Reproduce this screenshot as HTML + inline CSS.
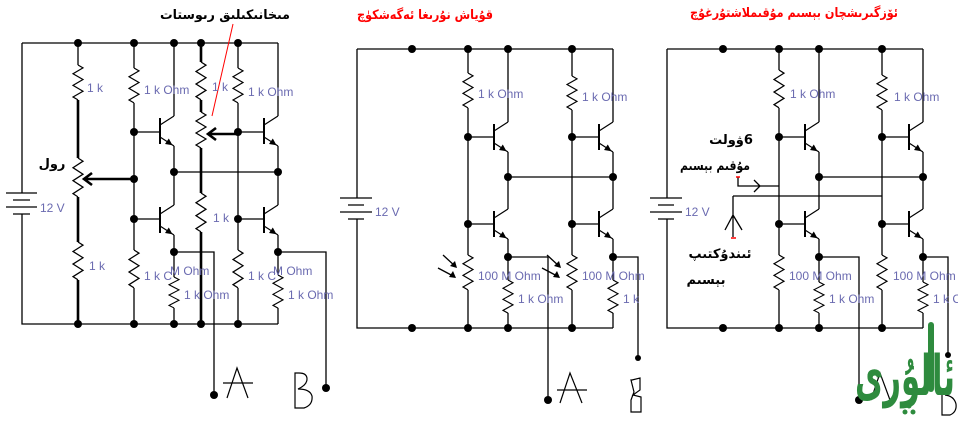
<!DOCTYPE html>
<html>
<head>
<meta charset="utf-8">
<style>
html,body{margin:0;padding:0;background:#fff;}
svg{display:block;}
.ar{font-family:"DejaVu Sans","Liberation Sans",sans-serif;font-weight:bold;}
.lb{font-family:"Liberation Sans",sans-serif;font-size:12px;fill:#6a6ab0;}
</style>
</head>
<body>
<svg width="958" height="423" viewBox="0 0 958 423" xmlns="http://www.w3.org/2000/svg">
<defs>
<path id="r" d="M0 0 L5 3 L-5 9 L5 15 L-5 21 L5 27 L-5 33 L0 36" fill="none" stroke="#000" stroke-width="1.2"/>
<g id="q">
<path d="M0 -13V13" stroke="#000" stroke-width="2" fill="none"/>
<path d="M0 -6L14 -15M0 6L14 15" stroke="#000" stroke-width="1.2" fill="none"/>
<path d="M12.5 14.3 L5 13 L8.8 7.5 Z" fill="#000"/>
</g>
</defs>
<rect width="958" height="423" fill="#fff"/>

<!-- ================= LEFT CIRCUIT ================= -->
<g fill="none" stroke="#000" stroke-width="1.3">
<path d="M22 43H278 M22 43V193 M22 214V324H278"/>
<path d="M6 193H37 M13 200H30 M6 207H37 M13 214H30"/>
<path d="M78 43V65"/>
<path d="M134 43V68 M134 103V250 M134 288V324 M134 132H160 M134 219H160"/>
<path d="M174 43V116 M174 146V205 M174 235V277 M174 308V324 M174 172H278"/>
<path d="M174 252H214V395"/>
<path d="M238 43V68 M238 103V250 M238 288V324 M238 132H264 M238 219H264"/>
<path d="M278 43V116 M278 146V205 M278 235V275 M278 308V324"/>
<path d="M278 252H326V388"/>
</g>
<g fill="none" stroke="#000" stroke-width="2.6">
<path d="M78 100V158 M78 197V242 M78 280V324"/>
<path d="M201 43V62 M201 100V112 M201 148V193 M201 232V324"/>
<path d="M134 179H84 M92 173L84 179L92 185"/>
<path d="M238 134H208 M216 128L208 134L216 140"/>
</g>
<use href="#r" transform="translate(78,65) scale(1,0.97)"/>
<use href="#r" transform="translate(78,158) scale(1,1.08)"/>
<use href="#r" transform="translate(78,242) scale(1,1.05)"/>
<use href="#r" transform="translate(134,68) scale(1,0.97)"/>
<use href="#r" transform="translate(134,250) scale(1,1.05)"/>
<use href="#r" transform="translate(174,277) scale(1,0.86)"/>
<use href="#r" transform="translate(201,62) scale(1,1.05)"/>
<use href="#r" transform="translate(201,112) scale(1,1)"/>
<use href="#r" transform="translate(201,193) scale(1,1.08)"/>
<use href="#r" transform="translate(238,68) scale(1,0.97)"/>
<use href="#r" transform="translate(238,250) scale(1,1.05)"/>
<use href="#r" transform="translate(278,275) scale(1,0.92)"/>
<use href="#q" x="160" y="131"/>
<use href="#q" x="160" y="220"/>
<use href="#q" x="264" y="131"/>
<use href="#q" x="264" y="220"/>
<g fill="#000">
<circle cx="78" cy="43" r="4"/><circle cx="134" cy="43" r="4"/><circle cx="174" cy="43" r="4"/><circle cx="201" cy="43" r="4"/><circle cx="238" cy="43" r="4"/>
<circle cx="134" cy="132" r="4"/><circle cx="238" cy="132" r="4"/><circle cx="134" cy="179" r="4"/>
<circle cx="174" cy="172" r="4"/><circle cx="278" cy="172" r="4"/>
<circle cx="134" cy="219" r="4"/><circle cx="238" cy="219" r="4"/>
<circle cx="174" cy="252" r="4"/><circle cx="278" cy="252" r="4"/>
<circle cx="78" cy="324" r="4"/><circle cx="134" cy="324" r="4"/><circle cx="174" cy="324" r="4"/><circle cx="201" cy="324" r="4"/><circle cx="238" cy="324" r="4"/>
<circle cx="214" cy="395" r="4"/><circle cx="326" cy="388" r="4"/>
</g>
<line x1="233" y1="24" x2="212" y2="116" stroke="#f00" stroke-width="1"/>
<text class="ar" x="225" y="19" font-size="13" direction="rtl" text-anchor="middle" textLength="130" lengthAdjust="spacingAndGlyphs">مىخانىكىلىق رىوستات</text>
<text class="ar" x="52" y="168" font-size="13" direction="rtl" text-anchor="middle">رول</text>
<text class="lb" x="40" y="212" fill="#8a8a9a">12 V</text>
<text class="lb" x="87" y="92">1 k</text>
<text class="lb" x="144" y="94">1 k Ohm</text>
<text class="lb" x="212" y="91">1 k</text>
<text class="lb" x="248" y="96">1 k Ohm</text>
<text class="lb" x="89" y="270">1 k</text>
<text class="lb" x="144" y="280">1 k C</text>
<text class="lb" x="170" y="275">M Ohm</text>
<text class="lb" x="184" y="299">1 k Ohm</text>
<text class="lb" x="213" y="222">1 k</text>
<text class="lb" x="248" y="280">1 k C</text>
<text class="lb" x="273" y="275">M Ohm</text>
<text class="lb" x="288" y="299">1 k Ohm</text>
<g fill="none" stroke="#000" stroke-width="1.2">
<path d="M227 398L237 368L248 398 M223 383H253"/>
<path d="M295 373V408H304Q313 405 312 396Q310 389 298 389Q307 385 307 379Q307 373 299 373Z"/>
</g>

<!-- ================= MIDDLE CIRCUIT ================= -->
<g fill="none" stroke="#000" stroke-width="1.3">
<path d="M357 49H613 M357 49V198 M357 219V328H613"/>
<path d="M340 198H372 M348 205H364 M340 212H372 M348 219H364"/>
<path d="M468 49V73 M468 108V255 M468 290V328 M468 137H494 M468 224H494"/>
<path d="M508 49V122 M508 152V209 M508 239V280 M508 313V328 M508 177H613"/>
<path d="M508 257H548V400"/>
<path d="M572 49V76 M572 110V255 M572 290V328 M572 137H599 M572 224H599"/>
<path d="M613 49V122 M613 152V209 M613 239V280 M613 313V328"/>
<path d="M613 257H638V358"/>
<path d="M443 255L456 267 M438 268L455 277"/>
<path d="M547 255L560 267 M542 268L559 277"/>
</g>
<g fill="#000">
<path d="M457 268L450 266L455 261Z"/><path d="M456 278L449 277L453 271Z"/>
<path d="M561 268L554 266L559 261Z"/><path d="M560 278L553 277L557 271Z"/>
</g>
<use href="#r" transform="translate(468,73) scale(1,0.97)"/>
<use href="#r" transform="translate(468,255) scale(1,0.97)"/>
<use href="#r" transform="translate(508,280) scale(1,0.92)"/>
<use href="#r" transform="translate(572,76) scale(1,0.94)"/>
<use href="#r" transform="translate(572,255) scale(1,0.97)"/>
<use href="#r" transform="translate(613,280) scale(1,0.92)"/>
<use href="#q" x="494" y="137"/>
<use href="#q" x="494" y="224"/>
<use href="#q" x="599" y="137"/>
<use href="#q" x="599" y="224"/>
<g fill="#000">
<circle cx="412" cy="49" r="4"/><circle cx="468" cy="49" r="4"/><circle cx="508" cy="49" r="4"/><circle cx="572" cy="49" r="4"/>
<circle cx="468" cy="137" r="4"/><circle cx="572" cy="137" r="4"/>
<circle cx="508" cy="177" r="4"/><circle cx="613" cy="177" r="4"/>
<circle cx="468" cy="224" r="4"/><circle cx="572" cy="224" r="4"/>
<circle cx="508" cy="257" r="4"/><circle cx="613" cy="257" r="4"/>
<circle cx="412" cy="328" r="4"/><circle cx="468" cy="328" r="4"/><circle cx="508" cy="328" r="4"/><circle cx="572" cy="328" r="4"/>
<circle cx="548" cy="400" r="4"/><circle cx="638" cy="358" r="3"/>
</g>
<text class="ar" x="425" y="19" font-size="13" fill="#f00" direction="rtl" text-anchor="middle" textLength="136" lengthAdjust="spacingAndGlyphs">قۇياش نۇرىغا ئەگەشكۈچ</text>
<text class="lb" x="375" y="216" fill="#8a8a9a">12 V</text>
<text class="lb" x="478" y="98">1 k Ohm</text>
<text class="lb" x="582" y="101">1 k Ohm</text>
<text class="lb" x="478" y="280">100 M Ohm</text>
<text class="lb" x="518" y="303">1 k Ohm</text>
<text class="lb" x="582" y="280">100 M Ohm</text>
<text class="lb" x="623" y="303">1 k</text>
<g fill="none" stroke="#000" stroke-width="1.2">
<path d="M560 403L570 373L582 403 M557 390H587"/>
<path d="M632 380L640 378V390L633 395L641 397V412H631V400L634 392L631 380Z"/>
</g>

<!-- ================= RIGHT CIRCUIT ================= -->
<g fill="none" stroke="#000" stroke-width="1.3">
<path d="M667 49H923 M667 49V198 M667 219V328H923"/>
<path d="M650 198H682 M658 205H674 M650 212H682 M658 219H674"/>
<path d="M779 49V70 M779 108V255 M779 290V328 M779 137H805 M779 224H805"/>
<path d="M819 49V122 M819 152V209 M819 239V282 M819 313V328 M819 177H923"/>
<path d="M819 257H859V400"/>
<path d="M882 49V75 M882 110V255 M882 290V328 M882 137H909 M882 224H909"/>
<path d="M923 49V122 M923 152V209 M923 239V282 M923 313V328"/>
<path d="M923 257H948V355"/>
<path d="M738 177V186H779 M754 180L760 186L754 192"/>
<path d="M733 196H882 M733 196V237 M725 230L733 215L742 230"/>
</g>
<path d="M736 177H740 M731 238H736" stroke="#f00" stroke-width="1.5"/>
<use href="#r" transform="translate(779,70) scale(1,1.05)"/>
<use href="#r" transform="translate(779,255) scale(1,0.97)"/>
<use href="#r" transform="translate(819,282) scale(1,0.86)"/>
<use href="#r" transform="translate(882,75) scale(1,0.97)"/>
<use href="#r" transform="translate(882,255) scale(1,0.97)"/>
<use href="#r" transform="translate(923,282) scale(1,0.86)"/>
<use href="#q" x="805" y="137"/>
<use href="#q" x="805" y="224"/>
<use href="#q" x="909" y="137"/>
<use href="#q" x="909" y="224"/>
<g fill="#000">
<circle cx="723" cy="49" r="4"/><circle cx="779" cy="49" r="4"/><circle cx="819" cy="49" r="4"/><circle cx="882" cy="49" r="4"/>
<circle cx="779" cy="137" r="4"/><circle cx="882" cy="137" r="4"/>
<circle cx="819" cy="177" r="4"/><circle cx="923" cy="177" r="4"/>
<circle cx="779" cy="224" r="4"/><circle cx="882" cy="224" r="4"/>
<circle cx="819" cy="257" r="4"/><circle cx="923" cy="257" r="4"/>
<circle cx="723" cy="328" r="4"/><circle cx="779" cy="328" r="4"/><circle cx="819" cy="328" r="4"/><circle cx="882" cy="328" r="4"/>
<circle cx="859" cy="400" r="4"/><circle cx="948" cy="355" r="3"/>
</g>
<text class="ar" x="794" y="17" font-size="13" fill="#f00" direction="rtl" text-anchor="middle" textLength="208" lengthAdjust="spacingAndGlyphs">ئۆزگىرىشچان بېسىم مۇقىملاشتۇرغۇچ</text>
<text class="lb" x="685" y="216" fill="#8a8a9a">12 V</text>
<text class="ar" x="731" y="144" font-size="13" direction="rtl" text-anchor="middle">6ۋولت</text>
<text class="ar" x="715" y="170" font-size="13" direction="rtl" text-anchor="middle" textLength="70" lengthAdjust="spacingAndGlyphs">مۇقىم بېسىم</text>
<text class="ar" x="720" y="258" font-size="13" direction="rtl" text-anchor="middle">ئىندۇكتىپ</text>
<text class="ar" x="706" y="284" font-size="13" direction="rtl" text-anchor="middle">بېسىم</text>
<text class="lb" x="790" y="98">1 k Ohm</text>
<text class="lb" x="894" y="101">1 k Ohm</text>
<text class="lb" x="789" y="280">100 M Ohm</text>
<text class="lb" x="829" y="303">1 k Ohm</text>
<text class="lb" x="893" y="280">100 M Ohm</text>
<text class="lb" x="933" y="303">1 k C</text>
<g fill="none" stroke="#000" stroke-width="1.2">
<path d="M871 400L880 373L890 400"/>
<path d="M942 392V415H950Q957 412 956 404Q954 396 945 395"/>
</g>

<!-- green calligraphy logo -->
<text x="905" y="395" font-family="DejaVu Sans, sans-serif" font-weight="bold" font-size="56" fill="#2e8b3e" direction="rtl" text-anchor="middle" textLength="100" lengthAdjust="spacingAndGlyphs">ئالۇرى</text>
<g fill="#2e8b3e">
<rect x="928" y="322" width="6" height="70" rx="3"/>
<circle cx="905" cy="412" r="2.5"/><circle cx="913" cy="412" r="2.5"/><circle cx="909" cy="406" r="2.5"/>
</g>
</svg>
</body>
</html>
